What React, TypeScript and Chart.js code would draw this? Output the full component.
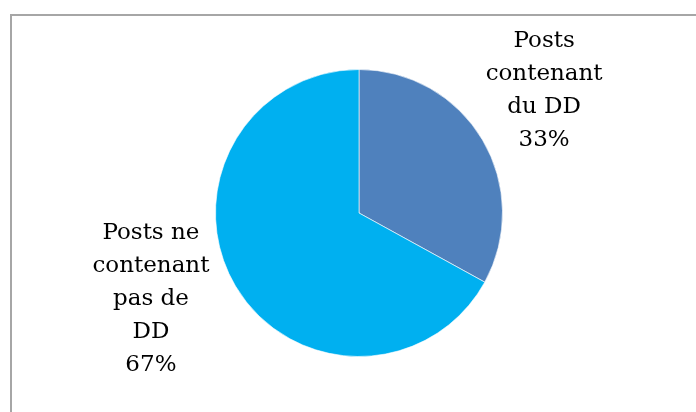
import React, { useEffect, useRef } from "react";
import { Chart, registerables } from "chart.js";

Chart.register(...registerables);

const categories: string[][] = [
  ["Posts", "contenant", "du DD"],
  ["Posts ne", "contenant", "pas de", "DD"],
];
const values: number[] = [33, 67];
const colors: string[] = ["#4F81BD", "#00B0F0"];

const frameAndLabels = {
  id: "frameAndLabels",
  beforeDraw(chart: any) {
    const ctx = chart.ctx;
    ctx.save();
    ctx.fillStyle = "#ffffff";
    ctx.fillRect(0, 0, chart.width, chart.height);
    ctx.strokeStyle = "#A6A6A6";
    ctx.lineWidth = 2;
    ctx.strokeRect(11, 15, chart.width + 20, chart.height + 20);
    ctx.restore();
  },
  afterDraw(chart: any) {
    const ctx = chart.ctx;
    const meta = chart.getDatasetMeta(0);
    const total = values.reduce((a, b) => a + b, 0);
    const offsets = [
      { fx: 1.29, fy: -0.85 },
      { fx: -1.45, fy: 0.6 },
    ];
    ctx.save();
    ctx.font = "23px 'DejaVu Serif'";
    ctx.fillStyle = "#000000";
    ctx.textAlign = "center";
    ctx.textBaseline = "middle";
    const lh = 33;
    meta.data.forEach((arc: any, i: number) => {
      const R = arc.outerRadius;
      const cx = arc.x + offsets[i].fx * R;
      const cy = arc.y + offsets[i].fy * R;
      const pct = Math.round((values[i] / total) * 100) + "%";
      const lines = [...categories[i], pct];
      const y0 = cy - ((lines.length - 1) * lh) / 2;
      lines.forEach((t, k) => ctx.fillText(t, cx, y0 + k * lh));
    });
    ctx.restore();
  },
};

export default function App() {
  const ref = useRef<HTMLCanvasElement | null>(null);
  useEffect(() => {
    document.body.style.margin = "0";
    const chart = new Chart(ref.current as HTMLCanvasElement, {
      type: "pie",
      data: {
        labels: categories.map((c) => c.join(" ")),
        datasets: [
          {
            data: values,
            backgroundColor: colors,
            borderColor: "rgba(255,255,255,0.6)",
            borderWidth: 1,
          },
        ],
      },
      options: {
        responsive: false,
        animation: false,
        layout: { padding: { left: 215, right: 193, top: 69, bottom: 55 } },
        plugins: {
          legend: { display: false },
          tooltip: { enabled: false },
        },
      },
      plugins: [frameAndLabels],
    });
    return () => chart.destroy();
  }, []);
  return <canvas ref={ref} width={696} height={412} style={{ display: "block" }} />;
}
